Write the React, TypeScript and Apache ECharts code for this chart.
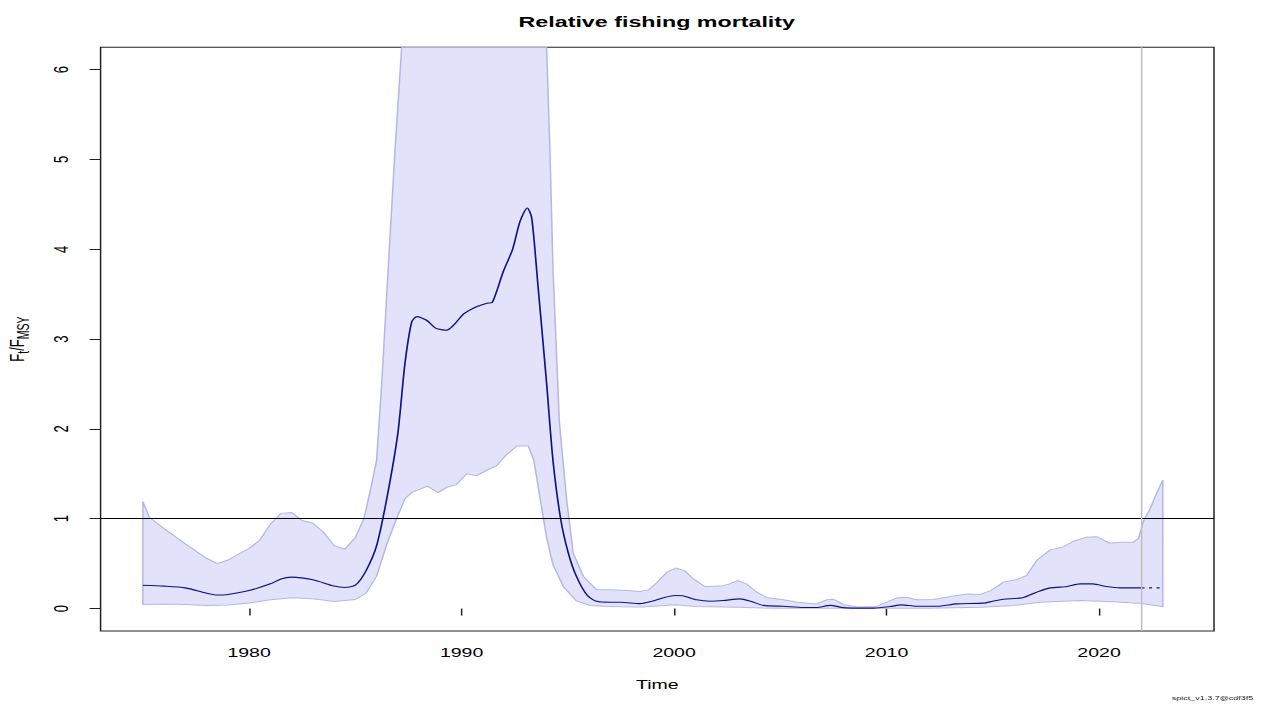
import { useEffect, useRef } from 'react';
import * as echarts from 'echarts';

// F/Fmsy estimate (median), [year, value]
const fMedian: [number, number][] = [
  [1975.0, 0.26], [1976.0, 0.25], [1977.0, 0.23], [1978.0, 0.17], [1978.5, 0.15],
  [1979.0, 0.156], [1980.0, 0.2], [1981.0, 0.275], [1981.5, 0.33], [1982.0, 0.35],
  [1983.0, 0.32], [1984.0, 0.25], [1984.5, 0.235], [1985.0, 0.26], [1985.5, 0.42],
  [1986.0, 0.7], [1986.5, 1.25], [1987.0, 1.95], [1987.33, 2.72], [1987.65, 3.19],
  [1987.9, 3.25], [1988.35, 3.21], [1988.8, 3.12], [1989.3, 3.1], [1989.6, 3.15],
  [1990.1, 3.28], [1990.7, 3.36], [1991.2, 3.4], [1991.45, 3.41], [1991.96, 3.75],
  [1992.4, 4.0], [1992.75, 4.31], [1993.09, 4.46], [1993.3, 4.35], [1993.6, 3.58],
  [1994.0, 2.51], [1994.3, 1.65], [1994.66, 1.0], [1995.02, 0.62], [1995.4, 0.36],
  [1995.9, 0.15], [1996.35, 0.08], [1997.0, 0.07], [1997.5, 0.07], [1998.4, 0.055],
  [1998.9, 0.078], [1999.5, 0.12], [2000.05, 0.145], [2000.45, 0.14], [2001.07, 0.097],
  [2001.7, 0.082], [2002.3, 0.089], [2003.1, 0.108], [2003.6, 0.082], [2004.2, 0.035],
  [2005.15, 0.025], [2006.1, 0.012], [2006.7, 0.012], [2007.35, 0.035], [2007.97, 0.01],
  [2008.6, 0.005], [2009.4, 0.005], [2010.17, 0.022], [2010.7, 0.041], [2011.4, 0.025],
  [2012.36, 0.025], [2013.3, 0.052], [2014.55, 0.06], [2015.0, 0.082], [2015.5, 0.104],
  [2016.4, 0.12], [2017.06, 0.182], [2017.7, 0.23], [2018.5, 0.245], [2019.1, 0.275],
  [2019.7, 0.275], [2020.35, 0.245], [2020.98, 0.23], [2022.0, 0.23],
];

// one-year-ahead prediction (dotted)
const fPredicted: [number, number][] = [[2022.0, 0.23], [2023.0, 0.23]];

// upper 95% limit (goes far above the plot top around 1987-1994)
const fUpper: [number, number][] = [
  [1975.0, 1.19], [1975.3, 1.02], [1975.5, 0.98], [1976.0, 0.89], [1977.0, 0.72],
  [1978.0, 0.56], [1978.5, 0.5], [1979.0, 0.54], [1980.0, 0.67], [1980.5, 0.76],
  [1981.0, 0.94], [1981.5, 1.06], [1982.0, 1.07], [1982.5, 0.98], [1983.0, 0.95],
  [1983.5, 0.85], [1984.0, 0.7], [1984.5, 0.66], [1985.0, 0.79], [1985.4, 1.0],
  [1985.7, 1.31], [1986.0, 1.65], [1986.24, 2.5], [1986.55, 3.8], [1986.86, 5.08],
  [1987.18, 6.28], [1987.6, 9], [1988.5, 12], [1990.0, 14], [1992.0, 14],
  [1993.5, 10], [1994.0, 6.28], [1994.16, 5.08], [1994.3, 3.79], [1994.6, 2.08],
  [1994.94, 1.22], [1995.25, 0.62], [1995.73, 0.36], [1996.05, 0.28], [1996.36, 0.21],
  [1997.0, 0.208], [1997.8, 0.2], [1998.4, 0.19], [1998.8, 0.208], [1999.2, 0.29],
  [1999.66, 0.405], [2000.1, 0.45], [2000.5, 0.42], [2000.9, 0.33], [2001.46, 0.245],
  [2002.2, 0.25], [2002.6, 0.275], [2003.0, 0.312], [2003.4, 0.275], [2003.9, 0.182],
  [2004.4, 0.119], [2005.15, 0.097], [2005.8, 0.071], [2006.7, 0.052], [2007.2, 0.097],
  [2007.5, 0.104], [2007.97, 0.045], [2008.6, 0.018], [2009.5, 0.022], [2010.0, 0.071],
  [2010.5, 0.119], [2010.95, 0.126], [2011.4, 0.097], [2012.2, 0.1], [2013.0, 0.134],
  [2013.8, 0.163], [2014.4, 0.156], [2014.9, 0.2], [2015.5, 0.294], [2016.1, 0.32],
  [2016.6, 0.368], [2017.06, 0.535], [2017.7, 0.654], [2018.3, 0.684], [2018.8, 0.75],
  [2019.4, 0.795], [2019.9, 0.8], [2020.5, 0.728], [2020.98, 0.739], [2021.6, 0.739],
  [2021.85, 0.78], [2022.1, 0.98], [2022.4, 1.11], [2022.7, 1.28], [2023.0, 1.43],
];

// lower 95% limit
const fLower: [number, number][] = [
  [1975.0, 0.045], [1976.0, 0.05], [1977.0, 0.045], [1978.0, 0.035], [1979.0, 0.04],
  [1980.0, 0.063], [1981.0, 0.097], [1982.0, 0.12], [1983.0, 0.11], [1984.0, 0.078],
  [1985.0, 0.1], [1985.5, 0.17], [1986.0, 0.36], [1986.47, 0.71], [1986.94, 1.0],
  [1987.33, 1.22], [1987.65, 1.29], [1988.04, 1.33], [1988.4, 1.36], [1988.9, 1.29],
  [1989.3, 1.35], [1989.76, 1.38], [1990.24, 1.5], [1990.7, 1.48], [1991.18, 1.54],
  [1991.65, 1.59], [1992.1, 1.71], [1992.6, 1.81], [1993.14, 1.81], [1993.4, 1.65],
  [1993.7, 1.22], [1994.0, 0.79], [1994.3, 0.49], [1994.8, 0.24], [1995.4, 0.086],
  [1996.04, 0.035], [1996.67, 0.025], [1997.5, 0.02], [1998.5, 0.018], [2000.1, 0.041],
  [2001.0, 0.022], [2003.0, 0.015], [2004.2, 0.005], [2005.0, 0.003], [2012.0, 0.003],
  [2014.4, 0.015], [2016.0, 0.033], [2017.2, 0.071], [2019.1, 0.089], [2020.66, 0.075],
  [2022.0, 0.055], [2023.0, 0.022],
];

const xTicks = [1980, 1990, 2000, 2010, 2020];
const yTicks = [0, 1, 2, 3, 4, 5, 6];
const refLevel = 1;
const lastDataYear = 2022;

const X_MIN = 1973.01;
const X_MAX = 2025.41;
const Y_MIN = -0.25;
const Y_MAX = 6.249;

// the reference image is an R plot stretched horizontally, so draw narrow and scale
const INNER_W = 840;
const H = 704;
const SX = 1261 / INNER_W;
const FONT = '"Liberation Sans", Arial, sans-serif';

export default function App() {
  const chartRef = useRef<HTMLDivElement>(null);

  useEffect(() => {
    document.body.style.margin = '0';
    if (!chartRef.current) return;
    const chart = echarts.init(chartRef.current, undefined, { renderer: 'svg' });

    const option: any = {
      animation: false,
      backgroundColor: '#fff',
      title: {
        text: 'Relative fishing mortality',
        left: 432.5,
        textAlign: 'center',
        top: 8,
        textStyle: { fontFamily: FONT, fontSize: 15.5, fontWeight: 'bold', color: '#000' },
      },
      graphic: [
        {
          type: 'text',
          right: 5,
          top: 695,
          style: { text: 'spict_v1.3.7@cdf3f5', fontFamily: FONT, fontSize: 6, fill: '#222' },
        },
      ],
      grid: {
        left: 67,
        right: 31.3,
        top: 47.3,
        bottom: 73,
        containLabel: false,
        outerBoundsMode: 'none',
        show: true,
        borderColor: '#222',
        borderWidth: 1,
        backgroundColor: 'transparent',
      },
      xAxis: {
        type: 'value',
        min: X_MIN,
        max: X_MAX,
        name: 'Time',
        nameLocation: 'middle',
        nameGap: 47,
        nameTextStyle: { fontFamily: FONT, fontSize: 13, color: '#000' },
        splitLine: { show: false },
        axisLine: { show: false },
        axisTick: {
          show: true,
          inside: false,
          length: 7,
          customValues: xTicks,
          lineStyle: { color: '#222', width: 1 },
        },
        axisLabel: {
          customValues: xTicks,
          formatter: (v: number) => String(v),
          margin: 15,
          fontFamily: FONT,
          fontSize: 13,
          color: '#000',
        },
      },
      yAxis: {
        type: 'value',
        min: Y_MIN,
        max: Y_MAX,
        name: '{f|F}{s|t}{f|/F}{s|MSY}',
        nameLocation: 'middle',
        nameRotate: 90,
        nameGap: 41,
        nameTextStyle: {
          fontFamily: FONT,
          color: '#000',
          rich: {
            f: { fontFamily: FONT, fontSize: 13, color: '#000', verticalAlign: 'top', lineHeight: 13 },
            s: { fontFamily: FONT, fontSize: 10.5, color: '#000', verticalAlign: 'middle', lineHeight: 21 },
          },
        },
        splitLine: { show: false },
        axisLine: { show: false },
        axisTick: {
          show: true,
          inside: false,
          length: 7.3,
          customValues: yTicks,
          lineStyle: { color: '#222', width: 1 },
        },
        axisLabel: {
          customValues: yTicks,
          rotate: 90,
          margin: 19.5,
          fontFamily: FONT,
          fontSize: 13,
          color: '#000',
        },
      },
      series: [
        {
          type: 'custom',
          name: 'CI',
          clip: true,
          silent: true,
          data: [fLower[0]],
          renderItem: (params: any, api: any) => {
            if (params.dataIndex !== 0) return null;
            const top = fUpper.map(([t, v]) => api.coord([t, Math.min(v, Y_MAX)]));
            const bottom = fLower
              .slice()
              .reverse()
              .map(([t, v]) => api.coord([t, Math.max(v, Y_MIN)]));
            return {
              type: 'polygon',
              shape: { points: top.concat(bottom) },
              style: { fill: '#e2e2fa', stroke: '#b6b6e6', lineWidth: 1 },
            };
          },
        },
        {
          type: 'line',
          name: 'F/Fmsy',
          data: fMedian,
          showSymbol: false,
          smooth: 0.25,
          lineStyle: { color: '#10108a', width: 1.1 },
          markLine: {
            silent: true,
            symbol: 'none',
            label: { show: false },
            data: [
              { yAxis: refLevel, lineStyle: { color: '#000', width: 1, type: 'solid' } },
              { xAxis: lastDataYear, lineStyle: { color: '#bebebe', width: 1, type: 'solid' } },
            ],
          },
        },
        {
          type: 'line',
          name: 'prediction',
          data: fPredicted,
          showSymbol: false,
          lineStyle: { color: '#10108a', width: 1.1, type: [2, 3] },
        },
      ],
    };

    chart.setOption(option);
    return () => {
      chart.dispose();
    };
  }, []);

  return (
    <div style={{ width: 1261, height: H, overflow: 'hidden', position: 'relative' }}>
      <div
        ref={chartRef}
        style={{
          width: INNER_W,
          height: H,
          transform: `scale(${SX}, 1)`,
          transformOrigin: '0 0',
        }}
      />
    </div>
  );
}
